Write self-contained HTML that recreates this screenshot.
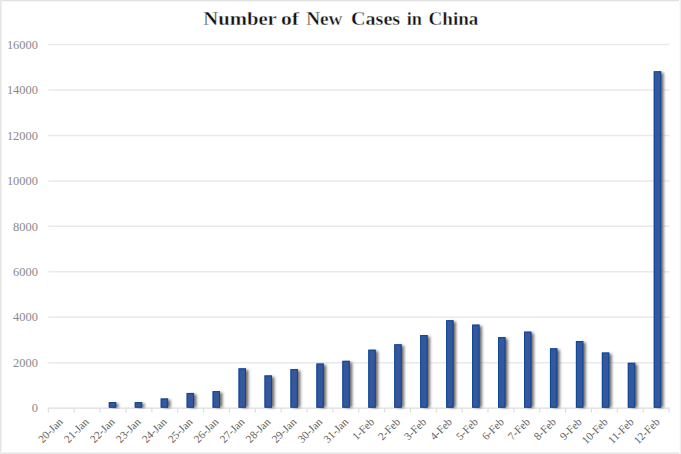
<!DOCTYPE html>
<html><head><meta charset="utf-8"><style>
html,body{margin:0;padding:0;background:#fff;width:681px;height:454px;overflow:hidden;}
svg{display:block}
</style></head><body>
<svg width="681" height="454" viewBox="0 0 681 454">
<defs><filter id="sh" x="-100%" y="-20%" width="300%" height="140%"><feGaussianBlur stdDeviation="1.7"/></filter></defs>
<rect x="0" y="0" width="681" height="454" fill="#fff"/>
<rect x="0" y="0" width="681" height="1" fill="#e2e2e2"/>
<rect x="0" y="1" width="681" height="1" fill="#f4f4f4"/>
<rect x="0" y="0" width="1" height="454" fill="#e4e4e4"/>
<rect x="1" y="0" width="1" height="454" fill="#f2f2f2"/>
<rect x="0" y="453" width="681" height="1" fill="#e6e6e6"/>
<rect x="0" y="452" width="681" height="1" fill="#f2f2f2"/>
<rect x="680" y="0" width="1" height="454" fill="#f0f0f0"/>
<rect x="679" y="0" width="1" height="454" fill="#fafafa"/>
<text x="203.3" y="25" textLength="73.5" lengthAdjust="spacingAndGlyphs" font-family="Liberation Serif" font-weight="bold" font-size="18.8" fill="#111" stroke="#fff" stroke-width="0.35">Number</text>
<text x="281.0" y="25" textLength="18.0" lengthAdjust="spacingAndGlyphs" font-family="Liberation Serif" font-weight="bold" font-size="18.8" fill="#111" stroke="#fff" stroke-width="0.35">of</text>
<text x="306.2" y="25" textLength="36.3" lengthAdjust="spacingAndGlyphs" font-family="Liberation Serif" font-weight="bold" font-size="18.8" fill="#111" stroke="#fff" stroke-width="0.35">New</text>
<text x="351.0" y="25" textLength="49.2" lengthAdjust="spacingAndGlyphs" font-family="Liberation Serif" font-weight="bold" font-size="18.8" fill="#111" stroke="#fff" stroke-width="0.35">Cases</text>
<text x="406.8" y="25" textLength="15.2" lengthAdjust="spacingAndGlyphs" font-family="Liberation Serif" font-weight="bold" font-size="18.8" fill="#111" stroke="#fff" stroke-width="0.35">in</text>
<text x="428.6" y="25" textLength="49.8" lengthAdjust="spacingAndGlyphs" font-family="Liberation Serif" font-weight="bold" font-size="18.8" fill="#111" stroke="#fff" stroke-width="0.35">China</text>
<line x1="48.4" y1="362.74" x2="669.44" y2="362.74" stroke="#e9e9e9" stroke-width="1.5"/>
<line x1="48.4" y1="317.28" x2="669.44" y2="317.28" stroke="#e9e9e9" stroke-width="1.5"/>
<line x1="48.4" y1="271.82" x2="669.44" y2="271.82" stroke="#e9e9e9" stroke-width="1.5"/>
<line x1="48.4" y1="226.36" x2="669.44" y2="226.36" stroke="#e9e9e9" stroke-width="1.5"/>
<line x1="48.4" y1="180.90" x2="669.44" y2="180.90" stroke="#e9e9e9" stroke-width="1.5"/>
<line x1="48.4" y1="135.44" x2="669.44" y2="135.44" stroke="#e9e9e9" stroke-width="1.5"/>
<line x1="48.4" y1="89.98" x2="669.44" y2="89.98" stroke="#e9e9e9" stroke-width="1.5"/>
<line x1="48.4" y1="44.52" x2="669.44" y2="44.52" stroke="#e9e9e9" stroke-width="1.5"/>
<text x="37.9" y="412.40" text-anchor="end" font-family="Liberation Serif" font-size="12.4" fill="#888">0</text>
<text x="37.9" y="366.94" text-anchor="end" font-family="Liberation Serif" font-size="12.4" fill="#888">2000</text>
<text x="37.9" y="321.48" text-anchor="end" font-family="Liberation Serif" font-size="12.4" fill="#888">4000</text>
<text x="37.9" y="276.02" text-anchor="end" font-family="Liberation Serif" font-size="12.4" fill="#888">6000</text>
<text x="37.9" y="230.56" text-anchor="end" font-family="Liberation Serif" font-size="12.4" fill="#888">8000</text>
<text x="37.9" y="185.10" text-anchor="end" font-family="Liberation Serif" font-size="12.4" fill="#888">10000</text>
<text x="37.9" y="139.64" text-anchor="end" font-family="Liberation Serif" font-size="12.4" fill="#888">12000</text>
<text x="37.9" y="94.18" text-anchor="end" font-family="Liberation Serif" font-size="12.4" fill="#888">14000</text>
<text x="37.9" y="48.72" text-anchor="end" font-family="Liberation Serif" font-size="12.4" fill="#888">16000</text>
<line x1="47.8" y1="408.20" x2="669.64" y2="408.20" stroke="#dddddd" stroke-width="1.3"/>
<line x1="48.40" y1="408.20" x2="48.40" y2="412.50" stroke="#dddddd" stroke-width="1.2"/>
<line x1="74.26" y1="408.20" x2="74.26" y2="412.50" stroke="#dddddd" stroke-width="1.2"/>
<line x1="100.12" y1="408.20" x2="100.12" y2="412.50" stroke="#dddddd" stroke-width="1.2"/>
<line x1="125.98" y1="408.20" x2="125.98" y2="412.50" stroke="#dddddd" stroke-width="1.2"/>
<line x1="151.84" y1="408.20" x2="151.84" y2="412.50" stroke="#dddddd" stroke-width="1.2"/>
<line x1="177.70" y1="408.20" x2="177.70" y2="412.50" stroke="#dddddd" stroke-width="1.2"/>
<line x1="203.56" y1="408.20" x2="203.56" y2="412.50" stroke="#dddddd" stroke-width="1.2"/>
<line x1="229.42" y1="408.20" x2="229.42" y2="412.50" stroke="#dddddd" stroke-width="1.2"/>
<line x1="255.28" y1="408.20" x2="255.28" y2="412.50" stroke="#dddddd" stroke-width="1.2"/>
<line x1="281.14" y1="408.20" x2="281.14" y2="412.50" stroke="#dddddd" stroke-width="1.2"/>
<line x1="307.00" y1="408.20" x2="307.00" y2="412.50" stroke="#dddddd" stroke-width="1.2"/>
<line x1="332.86" y1="408.20" x2="332.86" y2="412.50" stroke="#dddddd" stroke-width="1.2"/>
<line x1="358.72" y1="408.20" x2="358.72" y2="412.50" stroke="#dddddd" stroke-width="1.2"/>
<line x1="384.58" y1="408.20" x2="384.58" y2="412.50" stroke="#dddddd" stroke-width="1.2"/>
<line x1="410.44" y1="408.20" x2="410.44" y2="412.50" stroke="#dddddd" stroke-width="1.2"/>
<line x1="436.30" y1="408.20" x2="436.30" y2="412.50" stroke="#dddddd" stroke-width="1.2"/>
<line x1="462.16" y1="408.20" x2="462.16" y2="412.50" stroke="#dddddd" stroke-width="1.2"/>
<line x1="488.02" y1="408.20" x2="488.02" y2="412.50" stroke="#dddddd" stroke-width="1.2"/>
<line x1="513.88" y1="408.20" x2="513.88" y2="412.50" stroke="#dddddd" stroke-width="1.2"/>
<line x1="539.74" y1="408.20" x2="539.74" y2="412.50" stroke="#dddddd" stroke-width="1.2"/>
<line x1="565.60" y1="408.20" x2="565.60" y2="412.50" stroke="#dddddd" stroke-width="1.2"/>
<line x1="591.46" y1="408.20" x2="591.46" y2="412.50" stroke="#dddddd" stroke-width="1.2"/>
<line x1="617.32" y1="408.20" x2="617.32" y2="412.50" stroke="#dddddd" stroke-width="1.2"/>
<line x1="643.18" y1="408.20" x2="643.18" y2="412.50" stroke="#dddddd" stroke-width="1.2"/>
<line x1="669.04" y1="408.20" x2="669.04" y2="412.50" stroke="#dddddd" stroke-width="1.2"/>
<rect x="112.20" y="403.62" width="6.40" height="4.08" fill="#6a6866" filter="url(#sh)"/>
<rect x="108.80" y="402.12" width="7.4" height="5.58" fill="#35579c"/>
<rect x="109.30" y="402.62" width="6.40" height="4.58" fill="none" stroke="#0e4697" stroke-width="1"/>
<rect x="138.15" y="403.62" width="6.40" height="4.08" fill="#6a6866" filter="url(#sh)"/>
<rect x="134.75" y="402.12" width="7.4" height="5.58" fill="#35579c"/>
<rect x="135.25" y="402.62" width="6.40" height="4.58" fill="none" stroke="#0e4697" stroke-width="1"/>
<rect x="164.10" y="400.01" width="6.40" height="7.69" fill="#6a6866" filter="url(#sh)"/>
<rect x="160.70" y="398.51" width="7.4" height="9.19" fill="#35579c"/>
<rect x="161.20" y="399.01" width="6.40" height="8.19" fill="none" stroke="#0e4697" stroke-width="1"/>
<rect x="190.05" y="394.46" width="6.40" height="13.24" fill="#6a6866" filter="url(#sh)"/>
<rect x="186.65" y="392.96" width="7.4" height="14.74" fill="#35579c"/>
<rect x="187.15" y="393.46" width="6.40" height="13.74" fill="none" stroke="#0e4697" stroke-width="1"/>
<rect x="216.00" y="392.62" width="6.40" height="15.08" fill="#6a6866" filter="url(#sh)"/>
<rect x="212.60" y="391.12" width="7.4" height="16.58" fill="#35579c"/>
<rect x="213.10" y="391.62" width="6.40" height="15.58" fill="none" stroke="#0e4697" stroke-width="1"/>
<rect x="241.95" y="369.85" width="6.40" height="37.85" fill="#6a6866" filter="url(#sh)"/>
<rect x="238.55" y="368.35" width="7.4" height="39.35" fill="#35579c"/>
<rect x="239.05" y="368.85" width="6.40" height="38.35" fill="none" stroke="#0e4697" stroke-width="1"/>
<rect x="267.90" y="376.94" width="6.40" height="30.76" fill="#6a6866" filter="url(#sh)"/>
<rect x="264.50" y="375.44" width="7.4" height="32.26" fill="#35579c"/>
<rect x="265.00" y="375.94" width="6.40" height="31.26" fill="none" stroke="#0e4697" stroke-width="1"/>
<rect x="293.85" y="370.62" width="6.40" height="37.08" fill="#6a6866" filter="url(#sh)"/>
<rect x="290.45" y="369.12" width="7.4" height="38.58" fill="#35579c"/>
<rect x="290.95" y="369.62" width="6.40" height="37.58" fill="none" stroke="#0e4697" stroke-width="1"/>
<rect x="319.80" y="365.05" width="6.40" height="42.65" fill="#6a6866" filter="url(#sh)"/>
<rect x="316.40" y="363.55" width="7.4" height="44.15" fill="#35579c"/>
<rect x="316.90" y="364.05" width="6.40" height="43.15" fill="none" stroke="#0e4697" stroke-width="1"/>
<rect x="345.75" y="362.32" width="6.40" height="45.38" fill="#6a6866" filter="url(#sh)"/>
<rect x="342.35" y="360.82" width="7.4" height="46.88" fill="#35579c"/>
<rect x="342.85" y="361.32" width="6.40" height="45.88" fill="none" stroke="#0e4697" stroke-width="1"/>
<rect x="371.70" y="351.23" width="6.40" height="56.47" fill="#6a6866" filter="url(#sh)"/>
<rect x="368.30" y="349.73" width="7.4" height="57.97" fill="#35579c"/>
<rect x="368.80" y="350.23" width="6.40" height="56.97" fill="none" stroke="#0e4697" stroke-width="1"/>
<rect x="397.65" y="345.80" width="6.40" height="61.90" fill="#6a6866" filter="url(#sh)"/>
<rect x="394.25" y="344.30" width="7.4" height="63.40" fill="#35579c"/>
<rect x="394.75" y="344.80" width="6.40" height="62.40" fill="none" stroke="#0e4697" stroke-width="1"/>
<rect x="423.60" y="336.57" width="6.40" height="71.13" fill="#6a6866" filter="url(#sh)"/>
<rect x="420.20" y="335.07" width="7.4" height="72.63" fill="#35579c"/>
<rect x="420.70" y="335.57" width="6.40" height="71.63" fill="none" stroke="#0e4697" stroke-width="1"/>
<rect x="449.55" y="321.75" width="6.40" height="85.95" fill="#6a6866" filter="url(#sh)"/>
<rect x="446.15" y="320.25" width="7.4" height="87.45" fill="#35579c"/>
<rect x="446.65" y="320.75" width="6.40" height="86.45" fill="none" stroke="#0e4697" stroke-width="1"/>
<rect x="475.50" y="326.14" width="6.40" height="81.56" fill="#6a6866" filter="url(#sh)"/>
<rect x="472.10" y="324.64" width="7.4" height="83.06" fill="#35579c"/>
<rect x="472.60" y="325.14" width="6.40" height="82.06" fill="none" stroke="#0e4697" stroke-width="1"/>
<rect x="501.45" y="338.66" width="6.40" height="69.04" fill="#6a6866" filter="url(#sh)"/>
<rect x="498.05" y="337.16" width="7.4" height="70.54" fill="#35579c"/>
<rect x="498.55" y="337.66" width="6.40" height="69.54" fill="none" stroke="#0e4697" stroke-width="1"/>
<rect x="527.40" y="333.16" width="6.40" height="74.54" fill="#6a6866" filter="url(#sh)"/>
<rect x="524.00" y="331.66" width="7.4" height="76.04" fill="#35579c"/>
<rect x="524.50" y="332.16" width="6.40" height="75.04" fill="none" stroke="#0e4697" stroke-width="1"/>
<rect x="553.35" y="349.82" width="6.40" height="57.88" fill="#6a6866" filter="url(#sh)"/>
<rect x="549.95" y="348.32" width="7.4" height="59.38" fill="#35579c"/>
<rect x="550.45" y="348.82" width="6.40" height="58.38" fill="none" stroke="#0e4697" stroke-width="1"/>
<rect x="579.30" y="342.52" width="6.40" height="65.18" fill="#6a6866" filter="url(#sh)"/>
<rect x="575.90" y="341.02" width="7.4" height="66.68" fill="#35579c"/>
<rect x="576.40" y="341.52" width="6.40" height="65.68" fill="none" stroke="#0e4697" stroke-width="1"/>
<rect x="605.25" y="354.03" width="6.40" height="53.67" fill="#6a6866" filter="url(#sh)"/>
<rect x="601.85" y="352.53" width="7.4" height="55.17" fill="#35579c"/>
<rect x="602.35" y="353.03" width="6.40" height="54.17" fill="none" stroke="#0e4697" stroke-width="1"/>
<rect x="631.20" y="364.30" width="6.40" height="43.40" fill="#6a6866" filter="url(#sh)"/>
<rect x="627.80" y="362.80" width="7.4" height="44.90" fill="#35579c"/>
<rect x="628.30" y="363.30" width="6.40" height="43.90" fill="none" stroke="#0e4697" stroke-width="1"/>
<rect x="657.15" y="72.79" width="6.40" height="334.91" fill="#6a6866" filter="url(#sh)"/>
<rect x="653.75" y="71.29" width="7.4" height="336.41" fill="#35579c"/>
<rect x="654.25" y="71.79" width="6.40" height="335.41" fill="none" stroke="#0e4697" stroke-width="1"/>
<text x="63.55" y="422.50" text-anchor="end" transform="rotate(-45 63.55 422.50)" font-family="Liberation Serif" font-size="11.1" fill="#5e5e5e">20-Jan</text>
<text x="89.50" y="422.50" text-anchor="end" transform="rotate(-45 89.50 422.50)" font-family="Liberation Serif" font-size="11.1" fill="#5e5e5e">21-Jan</text>
<text x="115.45" y="422.50" text-anchor="end" transform="rotate(-45 115.45 422.50)" font-family="Liberation Serif" font-size="11.1" fill="#5e5e5e">22-Jan</text>
<text x="141.40" y="422.50" text-anchor="end" transform="rotate(-45 141.40 422.50)" font-family="Liberation Serif" font-size="11.1" fill="#5e5e5e">23-Jan</text>
<text x="167.35" y="422.50" text-anchor="end" transform="rotate(-45 167.35 422.50)" font-family="Liberation Serif" font-size="11.1" fill="#5e5e5e">24-Jan</text>
<text x="193.30" y="422.50" text-anchor="end" transform="rotate(-45 193.30 422.50)" font-family="Liberation Serif" font-size="11.1" fill="#5e5e5e">25-Jan</text>
<text x="219.25" y="422.50" text-anchor="end" transform="rotate(-45 219.25 422.50)" font-family="Liberation Serif" font-size="11.1" fill="#5e5e5e">26-Jan</text>
<text x="245.20" y="422.50" text-anchor="end" transform="rotate(-45 245.20 422.50)" font-family="Liberation Serif" font-size="11.1" fill="#5e5e5e">27-Jan</text>
<text x="271.15" y="422.50" text-anchor="end" transform="rotate(-45 271.15 422.50)" font-family="Liberation Serif" font-size="11.1" fill="#5e5e5e">28-Jan</text>
<text x="297.10" y="422.50" text-anchor="end" transform="rotate(-45 297.10 422.50)" font-family="Liberation Serif" font-size="11.1" fill="#5e5e5e">29-Jan</text>
<text x="323.05" y="422.50" text-anchor="end" transform="rotate(-45 323.05 422.50)" font-family="Liberation Serif" font-size="11.1" fill="#5e5e5e">30-Jan</text>
<text x="349.00" y="422.50" text-anchor="end" transform="rotate(-45 349.00 422.50)" font-family="Liberation Serif" font-size="11.1" fill="#5e5e5e">31-Jan</text>
<text x="374.95" y="422.50" text-anchor="end" transform="rotate(-45 374.95 422.50)" font-family="Liberation Serif" font-size="11.1" fill="#5e5e5e">1-Feb</text>
<text x="400.90" y="422.50" text-anchor="end" transform="rotate(-45 400.90 422.50)" font-family="Liberation Serif" font-size="11.1" fill="#5e5e5e">2-Feb</text>
<text x="426.85" y="422.50" text-anchor="end" transform="rotate(-45 426.85 422.50)" font-family="Liberation Serif" font-size="11.1" fill="#5e5e5e">3-Feb</text>
<text x="452.80" y="422.50" text-anchor="end" transform="rotate(-45 452.80 422.50)" font-family="Liberation Serif" font-size="11.1" fill="#5e5e5e">4-Feb</text>
<text x="478.75" y="422.50" text-anchor="end" transform="rotate(-45 478.75 422.50)" font-family="Liberation Serif" font-size="11.1" fill="#5e5e5e">5-Feb</text>
<text x="504.70" y="422.50" text-anchor="end" transform="rotate(-45 504.70 422.50)" font-family="Liberation Serif" font-size="11.1" fill="#5e5e5e">6-Feb</text>
<text x="530.65" y="422.50" text-anchor="end" transform="rotate(-45 530.65 422.50)" font-family="Liberation Serif" font-size="11.1" fill="#5e5e5e">7-Feb</text>
<text x="556.60" y="422.50" text-anchor="end" transform="rotate(-45 556.60 422.50)" font-family="Liberation Serif" font-size="11.1" fill="#5e5e5e">8-Feb</text>
<text x="582.55" y="422.50" text-anchor="end" transform="rotate(-45 582.55 422.50)" font-family="Liberation Serif" font-size="11.1" fill="#5e5e5e">9-Feb</text>
<text x="608.50" y="422.50" text-anchor="end" transform="rotate(-45 608.50 422.50)" font-family="Liberation Serif" font-size="11.1" fill="#5e5e5e">10-Feb</text>
<text x="634.45" y="422.50" text-anchor="end" transform="rotate(-45 634.45 422.50)" font-family="Liberation Serif" font-size="11.1" fill="#5e5e5e">11-Feb</text>
<text x="660.40" y="422.50" text-anchor="end" transform="rotate(-45 660.40 422.50)" font-family="Liberation Serif" font-size="11.1" fill="#5e5e5e">12-Feb</text>
</svg>
</body></html>
